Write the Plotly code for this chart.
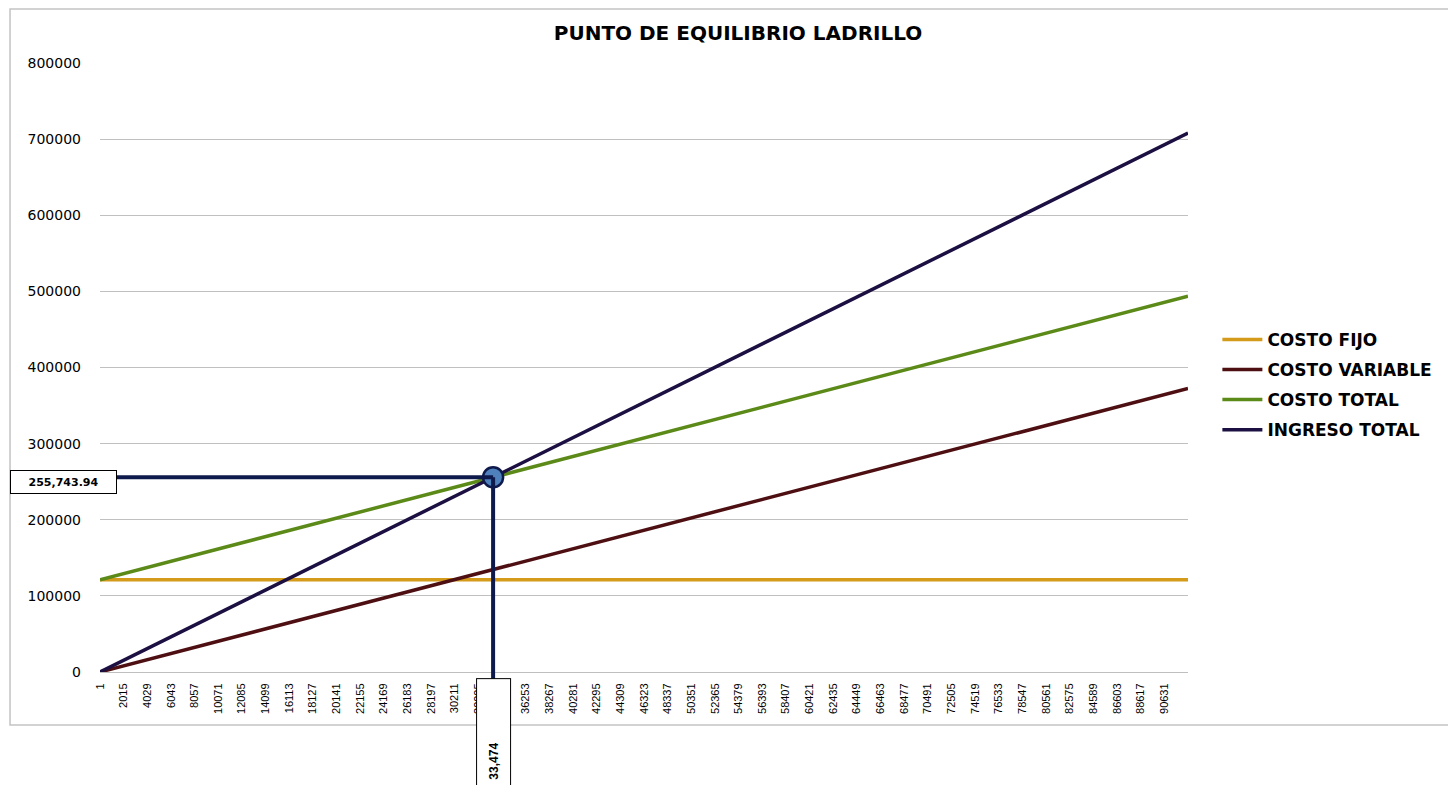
import plotly.graph_objects as go

# ---- data ----
unidades = [1, 92645]
costo_fijo = [121200, 121200]
costo_variable = [0, 372400]
costo_total = [121200, 493600]
ingreso_total = [0, 708000]

equilibrio_q = 33474
equilibrio_y = 255743.94

x_labels = ["1", "2015", "4029", "6043", "8057", "10071", "12085", "14099", "16113",
            "18127", "20141", "22155", "24169", "26183", "28197", "30211", "32225",
            "34239", "36253", "38267", "40281", "42295", "44309", "46323", "48337",
            "50351", "52365", "54379", "56393", "58407", "60421", "62435", "64449",
            "66463", "68477", "70491", "72505", "74519", "76533", "78547", "80561",
            "82575", "84589", "86603", "88617", "90631"]

series = [
    ("COSTO FIJO", costo_fijo, "#d49a1a"),
    ("COSTO VARIABLE", costo_variable, "#4e0f12"),
    ("COSTO TOTAL", costo_total, "#5b8a18"),
    ("INGRESO TOTAL", ingreso_total, "#1c1042"),
]

Y_MAX = 800000
NAVY = "#0f1a4c"

fig = go.Figure()
for name, vals, col in series:
    fig.add_trace(go.Scatter(x=unidades, y=vals, mode="lines", name=f"<b>{name}</b>",
                             legendgroup=name,
                             line=dict(color=col, width=3.5)))

# breakeven guide lines
fig.add_shape(type="line", xref="x", yref="y", x0=unidades[0], x1=equilibrio_q,
              y0=equilibrio_y, y1=equilibrio_y, line=dict(color=NAVY, width=4), layer="above")
fig.add_shape(type="line", xref="x", yref="paper", x0=equilibrio_q, x1=equilibrio_q,
              y0=-0.02, y1=equilibrio_y / Y_MAX, line=dict(color=NAVY, width=4), layer="above")

fig.add_trace(go.Scatter(x=[equilibrio_q], y=[equilibrio_y], mode="markers", showlegend=False,
                         marker=dict(size=20, color="#4f81bd", line=dict(color=NAVY, width=2.5)),
                         cliponaxis=False, hoverinfo="skip"))

# chart border
fig.add_shape(type="rect", xref="paper", yref="paper", x0=-0.0827, x1=1.26, y0=-0.087, y1=1.0887,
              line=dict(color="#c3c3c3", width=1.5), layer="below")

fig.add_annotation(x=-0.0827, xref="paper", y=equilibrio_y, yref="y", xanchor="left",
                   yanchor="middle", yshift=-5,
                   text=f"<b>{equilibrio_y:,.2f}</b>", showarrow=False,
                   width=103, height=20, bgcolor="white", bordercolor="black", borderwidth=1,
                   font=dict(family="DejaVu Sans", size=11, color="black"))

fig.add_annotation(x=equilibrio_q, xref="x", y=-0.0099, yref="paper", xanchor="center",
                   yanchor="top", textangle=-90, text=f"<b>{equilibrio_q:,}</b>", showarrow=False,
                   width=162, height=31, align="center", bgcolor="white",
                   bordercolor="black", borderwidth=1,
                   font=dict(family="Liberation Sans Narrow, Liberation Sans", size=12, color="black"))

fig.update_layout(
    width=1456, height=785,
    paper_bgcolor="white", plot_bgcolor="white",
    margin=dict(l=92, r=276, t=55, b=121),
    title=dict(text="<b>PUNTO DE EQUILIBRIO LADRILLO</b>", x=730 / 1456, xanchor="center",
               y=1 - 25 / 785, yanchor="middle",
               font=dict(family="DejaVu Sans", size=20, color="black")),
    showlegend=True,
    legend=dict(x=1.027, xanchor="left", y=0.575, yanchor="top", traceorder="grouped",
                tracegroupgap=5, itemwidth=40,
                font=dict(family="DejaVu Sans", size=17, color="black"),
                bgcolor="rgba(0,0,0,0)"),
    xaxis=dict(range=[unidades[0], unidades[-1]], tickmode="array",
               tickvals=[int(v) for v in x_labels], ticktext=x_labels, tickangle=-90,
               showgrid=False, zeroline=False, showline=True, linecolor="#bfbfbf", linewidth=1,
               ticks="", ticklabelstandoff=6,
               tickfont=dict(family="Liberation Sans", size=11, color="black")),
    yaxis=dict(range=[0, Y_MAX], dtick=100000, tickformat="d", showgrid=True,
               gridcolor="#c0c0c0", gridwidth=1, zeroline=False, showline=False,
               ticks="", ticklabelstandoff=18,
               tickfont=dict(family="DejaVu Sans", size=14, color="black")),
)

fig.write_html("out.html")
